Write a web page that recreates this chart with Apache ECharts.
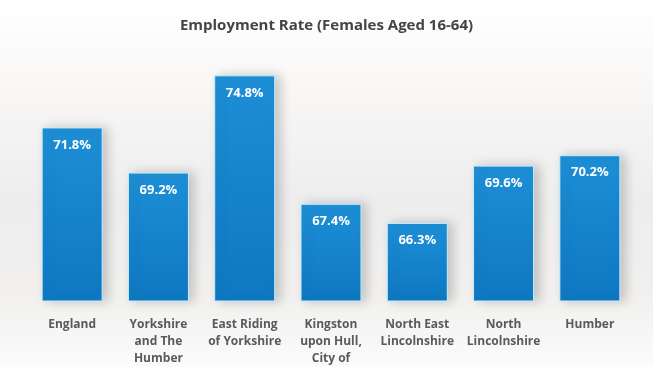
<!DOCTYPE html>
<html>
<head>
<meta charset="utf-8">
<script src="https://cdn.jsdelivr.net/npm/echarts@6/dist/echarts.min.js"></script>
<style>
  html, body { margin: 0; padding: 0; background: #fff; }
  #chart { width: 653px; height: 367px; }
</style>
</head>
<body>
<div id="chart"></div>
<script>
// Employment rate of females aged 16-64, by area
const areas = [
  'England',
  'Yorkshire\nand The\nHumber',
  'East Riding\nof Yorkshire',
  'Kingston\nupon Hull,\nCity of',
  'North East\nLincolnshire',
  'North\nLincolnshire',
  'Humber'
];
const rates = [71.8, 69.2, 74.8, 67.4, 66.3, 69.6, 70.2];

const chart = echarts.init(document.getElementById('chart'));
const font = '"Open Sans", "Liberation Sans", sans-serif';

chart.setOption({
  animation: false,
  backgroundColor: new echarts.graphic.LinearGradient(0, 0, 0, 1, [
    { offset: 0, color: '#ffffff' },
    { offset: 0.22, color: '#f9f8f7' },
    { offset: 0.55, color: '#eeeded' },
    { offset: 0.8, color: '#f1f0ef' },
    { offset: 1, color: '#fbfbfb' }
  ]),
  title: {
    text: 'Employment Rate (Females Aged 16-64)',
    left: 'center',
    top: 13,
    textStyle: { fontFamily: font, fontSize: 15, fontWeight: 'bold', color: '#444444' }
  },
  grid: { left: 29, right: 20, top: 58, bottom: 65 },
  xAxis: {
    type: 'category',
    data: areas,
    axisLine: { show: false },
    axisTick: { show: false },
    axisLabel: {
      interval: 0,
      margin: 15,
      fontFamily: font,
      fontSize: 12,
      fontWeight: 'bold',
      lineHeight: 17,
      color: '#5a5a5a'
    }
  },
  yAxis: {
    type: 'value',
    min: 61.8,
    max: 75.8,
    show: false,
    splitLine: { show: false }
  },
  series: [{
    type: 'bar',
    data: rates,
    barWidth: 61,
    itemStyle: {
      color: new echarts.graphic.LinearGradient(0, 0, 0, 1, [
        { offset: 0, color: '#1d8fd6' },
        { offset: 1, color: '#0e78c2' }
      ]),
      borderColor: '#c9ecfa',
      borderWidth: 1,
      shadowColor: 'rgba(60,60,60,0.25)',
      shadowBlur: 10,
      shadowOffsetX: 5,
      shadowOffsetY: 0
    },
    label: {
      show: true,
      position: 'insideTop',
      distance: 11,
      formatter: p => p.value.toFixed(1) + '%',
      fontFamily: font,
      fontSize: 13,
      fontWeight: 'bold',
      color: '#ffffff'
    }
  }]
});
</script>
</body>
</html>
